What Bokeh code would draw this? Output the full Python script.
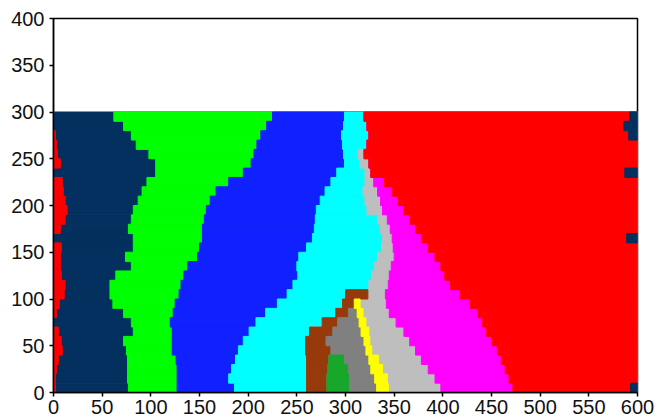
from bokeh.plotting import figure
from bokeh.models import ColumnDataSource, FixedTicker
from bokeh.embed import file_html
from bokeh.resources import INLINE

# ---------------- data ----------------
# horizontal bins (lower edge of each 10-unit strip in y)
bin_lo = [0, 10, 20, 30, 40, 50, 60, 70, 80, 90,
          100, 110, 120, 130, 140, 150, 160, 170, 180, 190,
          200, 210, 220, 230, 240, 250, 260, 270, 280, 290]

# boundaries (x position) per bin, left to right
navy_green = [77, 76, 76, 76, 75, 72, 82, 80, 72, 61,
              58, 58, 64, 80, 74, 82, 82, 77, 80, 82,
              87, 91, 96, 105, 105, 98, 85, 80, 72, 62]
green_blue = [127, 127, 127, 126, 122, 122, 122, 120, 123, 125,
              129, 131, 134, 138, 148, 150, 153, 153, 155, 157,
              161, 167, 180, 195, 203, 206, 209, 213, 219, 225]
blue_cyan = [186, 180, 183, 187, 190, 195, 201, 208, 218, 230,
             240, 246, 251, 250, 252, 260, 266, 268, 269, 270,
             274, 279, 285, 291, 299, 298, 297, 296, 298, 299]
cyan_right = [260, 260, 260, 260, 259, 259, 263, 276, 290, 297,
              300, 324, 327, 330, 333, 337, 338, 336, 333, 322,
              320, 318, 320, 320, 315, 313, 322, 324, 322, 319]
lgray_right = [398, 392, 385, 378, 372, 366, 360, 352, 345, 342,
               341, 344, 345, 347, 350, 349, 348, 346, 343, 338,
               336, 333, 329, 326, 324, 319, 322, 324, 322, 319]
magenta_right = [472, 468, 464, 460, 456, 450, 445, 441, 436, 428,
                 418, 408, 402, 398, 392, 385, 378, 372, 366, 360,
                 354, 348, 340, 326, 324, 319, 322, 324, 322, 319]

# red grain along the left edge: width per bin
red_left_width = [2, 2, 3, 5, 9, 8, 5, 0, 3, 6,
                  11, 12, 8, 7, 7, 8, 0, 7, 12, 14,
                  12, 10, 9, 0, 7, 4, 3, 2, 0, 0]

# navy grain along the right edge
navy_r_bins = [0, 160, 230, 270, 280, 290]
navy_r_left = [593, 589, 587, 591, 586, 592]

# small grains near the bottom centre
brown_bins = [0, 10, 20, 30, 40, 50, 60, 70, 80, 90, 100]
brown_left = [260, 260, 260, 260, 259, 259, 263, 276, 290, 297, 300]
brown_right = [281, 281, 282, 283, 285, 283, 287, 292, 303, 309, 323]

dgray_bins = [0, 10, 20, 30, 40, 50, 60, 70, 80]
dgray_left = [281, 281, 282, 283, 285, 280, 287, 292, 303]
dgray_right = [332, 330, 327, 325, 321, 319, 316, 314, 312]

green2_bins = [0, 10, 20, 30]
green2_left = [281, 281, 282, 283]
green2_right = [303, 303, 302, 298]

yellow_bins = [0, 10, 20, 30, 40, 50, 60, 70, 80, 90]
yellow_left = [332, 330, 326, 324, 321, 319, 316, 314, 312, 309]
yellow_right = [344, 343, 338, 334, 327, 325, 324, 321, 318, 315]

x_ticks = [0, 50, 100, 150, 200, 250, 300, 350, 400, 450, 500, 550, 600]
y_ticks = [0, 50, 100, 150, 200, 250, 300, 350, 400]

# ---------------- figure ----------------
BIN = 10
X_MAX = 600

p = figure(width=657, height=420, x_range=(0, 600), y_range=(0, 400),
           output_backend="svg", toolbar_location=None,
           min_border_left=53, min_border_right=20,
           min_border_top=18, min_border_bottom=28)
p.background_fill_color = "white"
p.border_fill_color = "white"
p.xgrid.visible = False
p.ygrid.visible = False
p.outline_line_color = "black"
p.outline_line_width = 1.5


def strips(bins, left, right, color):
    src = ColumnDataSource(dict(y=[b + BIN / 2 for b in bins],
                                left=left, right=right))
    p.hbar(y="y", height=BIN, left="left", right="right", source=src,
           fill_color=color, line_color=color, line_width=1)


full = [X_MAX] * len(bin_lo)
strips(bin_lo, [0] * len(bin_lo), full, "#04305f")      # navy
strips(bin_lo, navy_green, full, "#00ff00")            # green
strips(bin_lo, green_blue, full, "#1020ff")            # blue
strips(bin_lo, blue_cyan, full, "#00ffff")             # cyan
strips(bin_lo, cyan_right, full, "#bebebe")            # light gray
strips(bin_lo, lgray_right, full, "#ff00ff")           # magenta
strips(bin_lo, magenta_right, full, "#ff0000")         # red

# red grain at left edge
rb = [b for b, w in zip(bin_lo, red_left_width) if w > 0]
rw = [w for w in red_left_width if w > 0]
strips(rb, [0] * len(rb), rw, "#ff0000")
# navy grain at right edge
strips(navy_r_bins, navy_r_left, [X_MAX] * len(navy_r_bins), "#04305f")

strips(brown_bins, brown_left, brown_right, "#973a0b")
strips(dgray_bins, dgray_left, dgray_right, "#808080")
strips(green2_bins, green2_left, green2_right, "#17a72a")
strips(yellow_bins, yellow_left, yellow_right, "#ffff00")

for ax, ticks, standoff in ((p.xaxis, x_ticks, 3), (p.yaxis, y_ticks, 5)):
    ax.ticker = FixedTicker(ticks=ticks)
    ax.axis_line_color = "black"
    ax.axis_line_width = 1.5
    ax.major_tick_line_color = "black"
    ax.major_tick_line_width = 1.5
    ax.major_tick_in = 0
    ax.major_tick_out = 4
    ax.minor_tick_line_color = None
    ax.major_label_text_font = "Liberation Sans"
    ax.major_label_text_font_size = "20px"
    ax.major_label_text_color = "#111111"
    ax.major_label_standoff = standoff

open("out.html", "w").write(file_html(p, INLINE))
